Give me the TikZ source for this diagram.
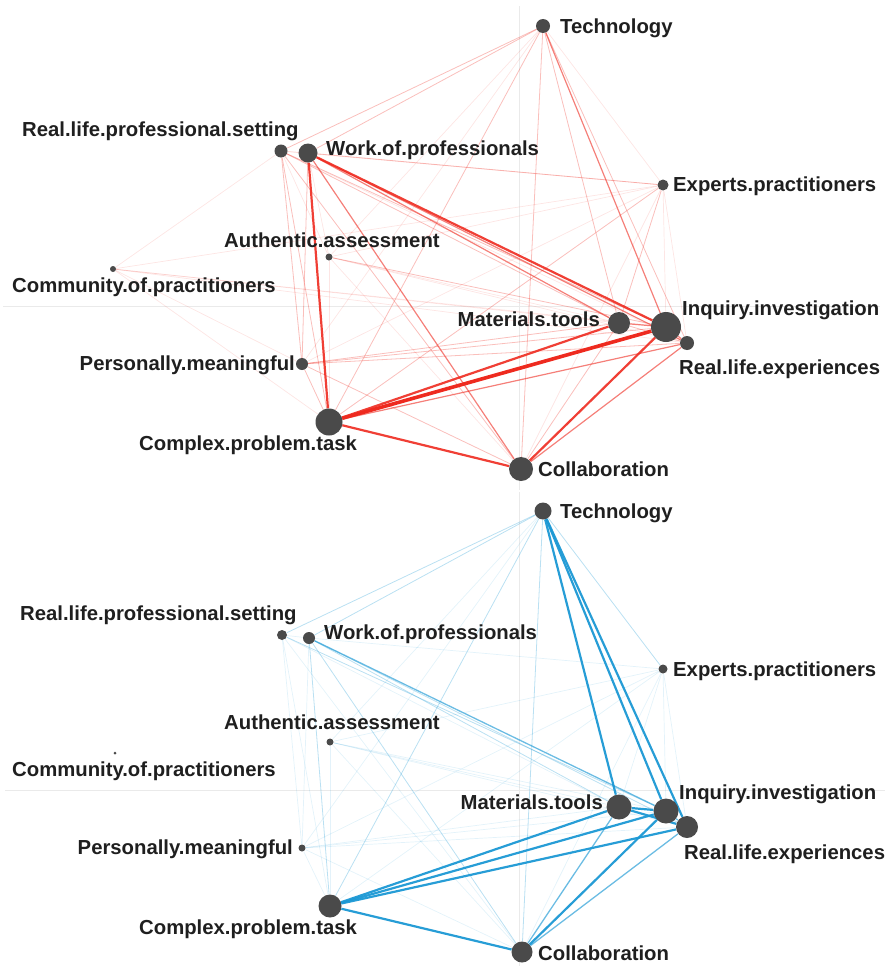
\documentclass[tikz,border=0pt]{standalone}
\usepackage{fontspec}
\setmainfont{Liberation Sans}
\usetikzlibrary{backgrounds}
\definecolor{redE}{HTML}{EE2A1F}
\definecolor{blueE}{HTML}{1B98D4}
\definecolor{dotc}{HTML}{4A4A4A}
\definecolor{axisc}{HTML}{EAEAEA}
\tikzset{
  dot/.style={circle,fill=dotc,draw=none,inner sep=0pt},
  lab/.style={inner sep=0pt,font=\fontsize{20.3}{23}\selectfont\bfseries,text=black!88},
  axisline/.style={draw=axisc,line width=1pt},
  r1/.style={draw=redE,draw opacity=0.12,line width=0.7pt},
  r2/.style={draw=redE,draw opacity=0.3,line width=0.8pt},
  r3/.style={draw=redE,draw opacity=0.6,line width=1.2pt},
  r4/.style={draw=redE,draw opacity=0.9,line width=2.2pt},
  r5/.style={draw=redE,draw opacity=1,line width=3.6pt},
  b1/.style={draw=blueE,draw opacity=0.12,line width=0.7pt},
  b2/.style={draw=blueE,draw opacity=0.3,line width=0.8pt},
  b3/.style={draw=blueE,draw opacity=0.65,line width=1.3pt},
  b4/.style={draw=blueE,draw opacity=0.95,line width=2.2pt},
  b5/.style={draw=blueE,draw opacity=1,line width=3pt},
}
\begin{document}
\begin{tikzpicture}[x=1pt,y=-1pt]
\useasboundingbox (0,0) rectangle (889,966);
% ---------- top graph nodes ----------
\node[dot,minimum size=14pt] (aTec) at (543,26) {};
\node[dot,minimum size=13pt] (aRPS) at (281,151) {};
\node[dot,minimum size=19pt] (aWrk) at (308,153) {};
\node[dot,minimum size=11pt] (aExp) at (663,185) {};
\node[dot,minimum size=7pt] (aAut) at (329,257) {};
\node[dot,minimum size=6pt] (aCom) at (113,269) {};
\node[dot,minimum size=22pt] (aMat) at (619,323) {};
\node[dot,minimum size=30pt] (aInq) at (666,327) {};
\node[dot,minimum size=14pt] (aRLE) at (687,343) {};
\node[dot,minimum size=12pt] (aPer) at (302,364) {};
\node[dot,minimum size=27pt] (aCpx) at (329,422) {};
\node[dot,minimum size=24pt] (aCol) at (521,469) {};
% ---------- bottom graph nodes ----------
\node[dot,minimum size=17pt] (bTec) at (543,511) {};
\node[dot,minimum size=10pt] (bRPS) at (282,635) {};
\node[dot,minimum size=12pt] (bWrk) at (309,638) {};
\node[dot,minimum size=9pt] (bExp) at (663,669) {};
\node[dot,minimum size=7pt] (bAut) at (330,742) {};
\node[dot,minimum size=3pt] (bCom) at (115,753) {};
\node[dot,minimum size=25pt] (bMat) at (619,807) {};
\node[dot,minimum size=25pt] (bInq) at (666,811) {};
\node[dot,minimum size=22pt] (bRLE) at (687,827) {};
\node[dot,minimum size=7pt] (bPer) at (302,848) {};
\node[dot,minimum size=23pt] (bCpx) at (330,906) {};
\node[dot,minimum size=21pt] (bCol) at (522,952) {};
\begin{scope}[on background layer]
% axes
\coordinate (av1) at (519,6);   \coordinate (av2) at (519,490);
\coordinate (ah1) at (3,306.5); \coordinate (ah2) at (880,306.5);
\coordinate (bv1) at (519,492); \coordinate (bv2) at (519,966);
\coordinate (bh1) at (5,790.5); \coordinate (bh2) at (885,790.5);
\draw[axisline] (av1) -- (av2);
\draw[axisline] (ah1) -- (ah2);
\draw[axisline] (bv1) -- (bv2);
\draw[axisline] (bh1) -- (bh2);
% top edges
\foreach \u/\v/\w in {
  Tec/RPS/2, Tec/Wrk/2, Tec/Exp/1, Tec/Aut/1, Tec/Mat/2, Tec/Inq/3, Tec/RLE/2, Tec/Per/1, Tec/Cpx/2, Tec/Col/2,
  RPS/Wrk/1, RPS/Exp/1, RPS/Com/1, RPS/Mat/2, RPS/Inq/2, RPS/RLE/1, RPS/Per/2, RPS/Cpx/2, RPS/Col/2, RPS/Aut/1,
  Wrk/Exp/2, Wrk/Mat/3, Wrk/Inq/4, Wrk/RLE/3, Wrk/Per/2, Wrk/Cpx/4, Wrk/Col/3, Wrk/Aut/1,
  Exp/Aut/1, Exp/Mat/2, Exp/Inq/1, Exp/RLE/1, Exp/Per/1, Exp/Cpx/2, Exp/Col/1, Exp/Com/1,
  Aut/Inq/2, Aut/Mat/1, Aut/RLE/1, Aut/Cpx/1, Aut/Col/1,
  Com/Inq/1, Com/Mat/1, Com/Cpx/1, Com/RLE/1, Com/Per/1,
  Mat/Inq/3, Mat/RLE/2, Mat/Per/2, Mat/Cpx/4, Mat/Col/2,
  Inq/RLE/3, Inq/Per/2, Inq/Cpx/5, Inq/Col/4,
  RLE/Per/2, RLE/Cpx/3, RLE/Col/3,
  Per/Cpx/2, Per/Col/2,
  Cpx/Col/4}
  \draw[r\w] (a\u) -- (a\v);
% bottom edges
\foreach \u/\v/\w in {
  Tec/RPS/2, Tec/Wrk/2, Tec/Exp/2, Tec/Aut/1, Tec/Mat/4, Tec/Inq/4, Tec/RLE/4, Tec/Per/1, Tec/Cpx/2, Tec/Col/2,
  RPS/Wrk/1, RPS/Inq/2, RPS/Mat/1, RPS/Per/1, RPS/Cpx/1, RPS/Col/1,
  Wrk/Exp/1, Wrk/Mat/2, Wrk/Inq/3, Wrk/RLE/2, Wrk/Cpx/2, Wrk/Col/2, Wrk/Per/1,
  Exp/Aut/1, Exp/Mat/1, Exp/Inq/1, Exp/RLE/1, Exp/Cpx/1, Exp/Col/1, Exp/Per/1,
  Aut/Inq/1, Aut/Mat/1, Aut/RLE/1, Aut/Cpx/1, Aut/Col/1,
  Mat/Inq/4, Mat/RLE/4, Mat/Per/1, Mat/Cpx/4, Mat/Col/3,
  Inq/RLE/3, Inq/Per/1, Inq/Cpx/4, Inq/Col/4,
  RLE/Per/1, RLE/Cpx/4, RLE/Col/3,
  Per/Cpx/1, Per/Col/1,
  Cpx/Col/4}
  \draw[b\w] (b\u) -- (b\v);
\end{scope}
% ---------- labels top ----------
\node[lab,anchor=base west] (laTec) at (560,34) {Technology};
\node[lab,anchor=base west] (laRPS) at (22,136) {Real.life.professional.setting};
\node[lab,anchor=base west] (laWrk) at (326,155) {Work.of.professionals};
\node[lab,anchor=base west] (laExp) at (673,191) {Experts.practitioners};
\node[lab,anchor=base west] (laAut) at (224,247) {Authentic.assessment};
\node[lab,anchor=base west] (laCom) at (12,292) {Community.of.practitioners};
\node[lab,anchor=base east] (laMat) at (600,326) {Materials.tools};
\node[lab,anchor=base west] (laInq) at (682,315) {Inquiry.investigation};
\node[lab,anchor=base west] (laRLE) at (679,374) {Real.life.experiences};
\node[lab,anchor=base east] (laPer) at (295,370) {Personally.meaningful};
\node[lab,anchor=base west] (laCpx) at (139,450) {Complex.problem.task};
\node[lab,anchor=base west] (laCol) at (538,476) {Collaboration};
% ---------- labels bottom ----------
\node[lab,anchor=base west] (lbTec) at (560,518) {Technology};
\node[lab,anchor=base west] (lbRPS) at (20,620) {Real.life.professional.setting};
\node[lab,anchor=base west] (lbWrk) at (324,639) {Work.of.professionals};
\node[lab,anchor=base west] (lbExp) at (673,676) {Experts.practitioners};
\node[lab,anchor=base west] (lbAut) at (224,729) {Authentic.assessment};
\node[lab,anchor=base west] (lbCom) at (12,776) {Community.of.practitioners};
\node[lab,anchor=base east] (lbMat) at (603,809) {Materials.tools};
\node[lab,anchor=base west] (lbInq) at (679,799) {Inquiry.investigation};
\node[lab,anchor=base west] (lbRLE) at (684,859) {Real.life.experiences};
\node[lab,anchor=base east] (lbPer) at (293,854) {Personally.meaningful};
\node[lab,anchor=base west] (lbCpx) at (139,934) {Complex.problem.task};
\node[lab,anchor=base west] (lbCol) at (538,960) {Collaboration};
\end{tikzpicture}
\end{document}
